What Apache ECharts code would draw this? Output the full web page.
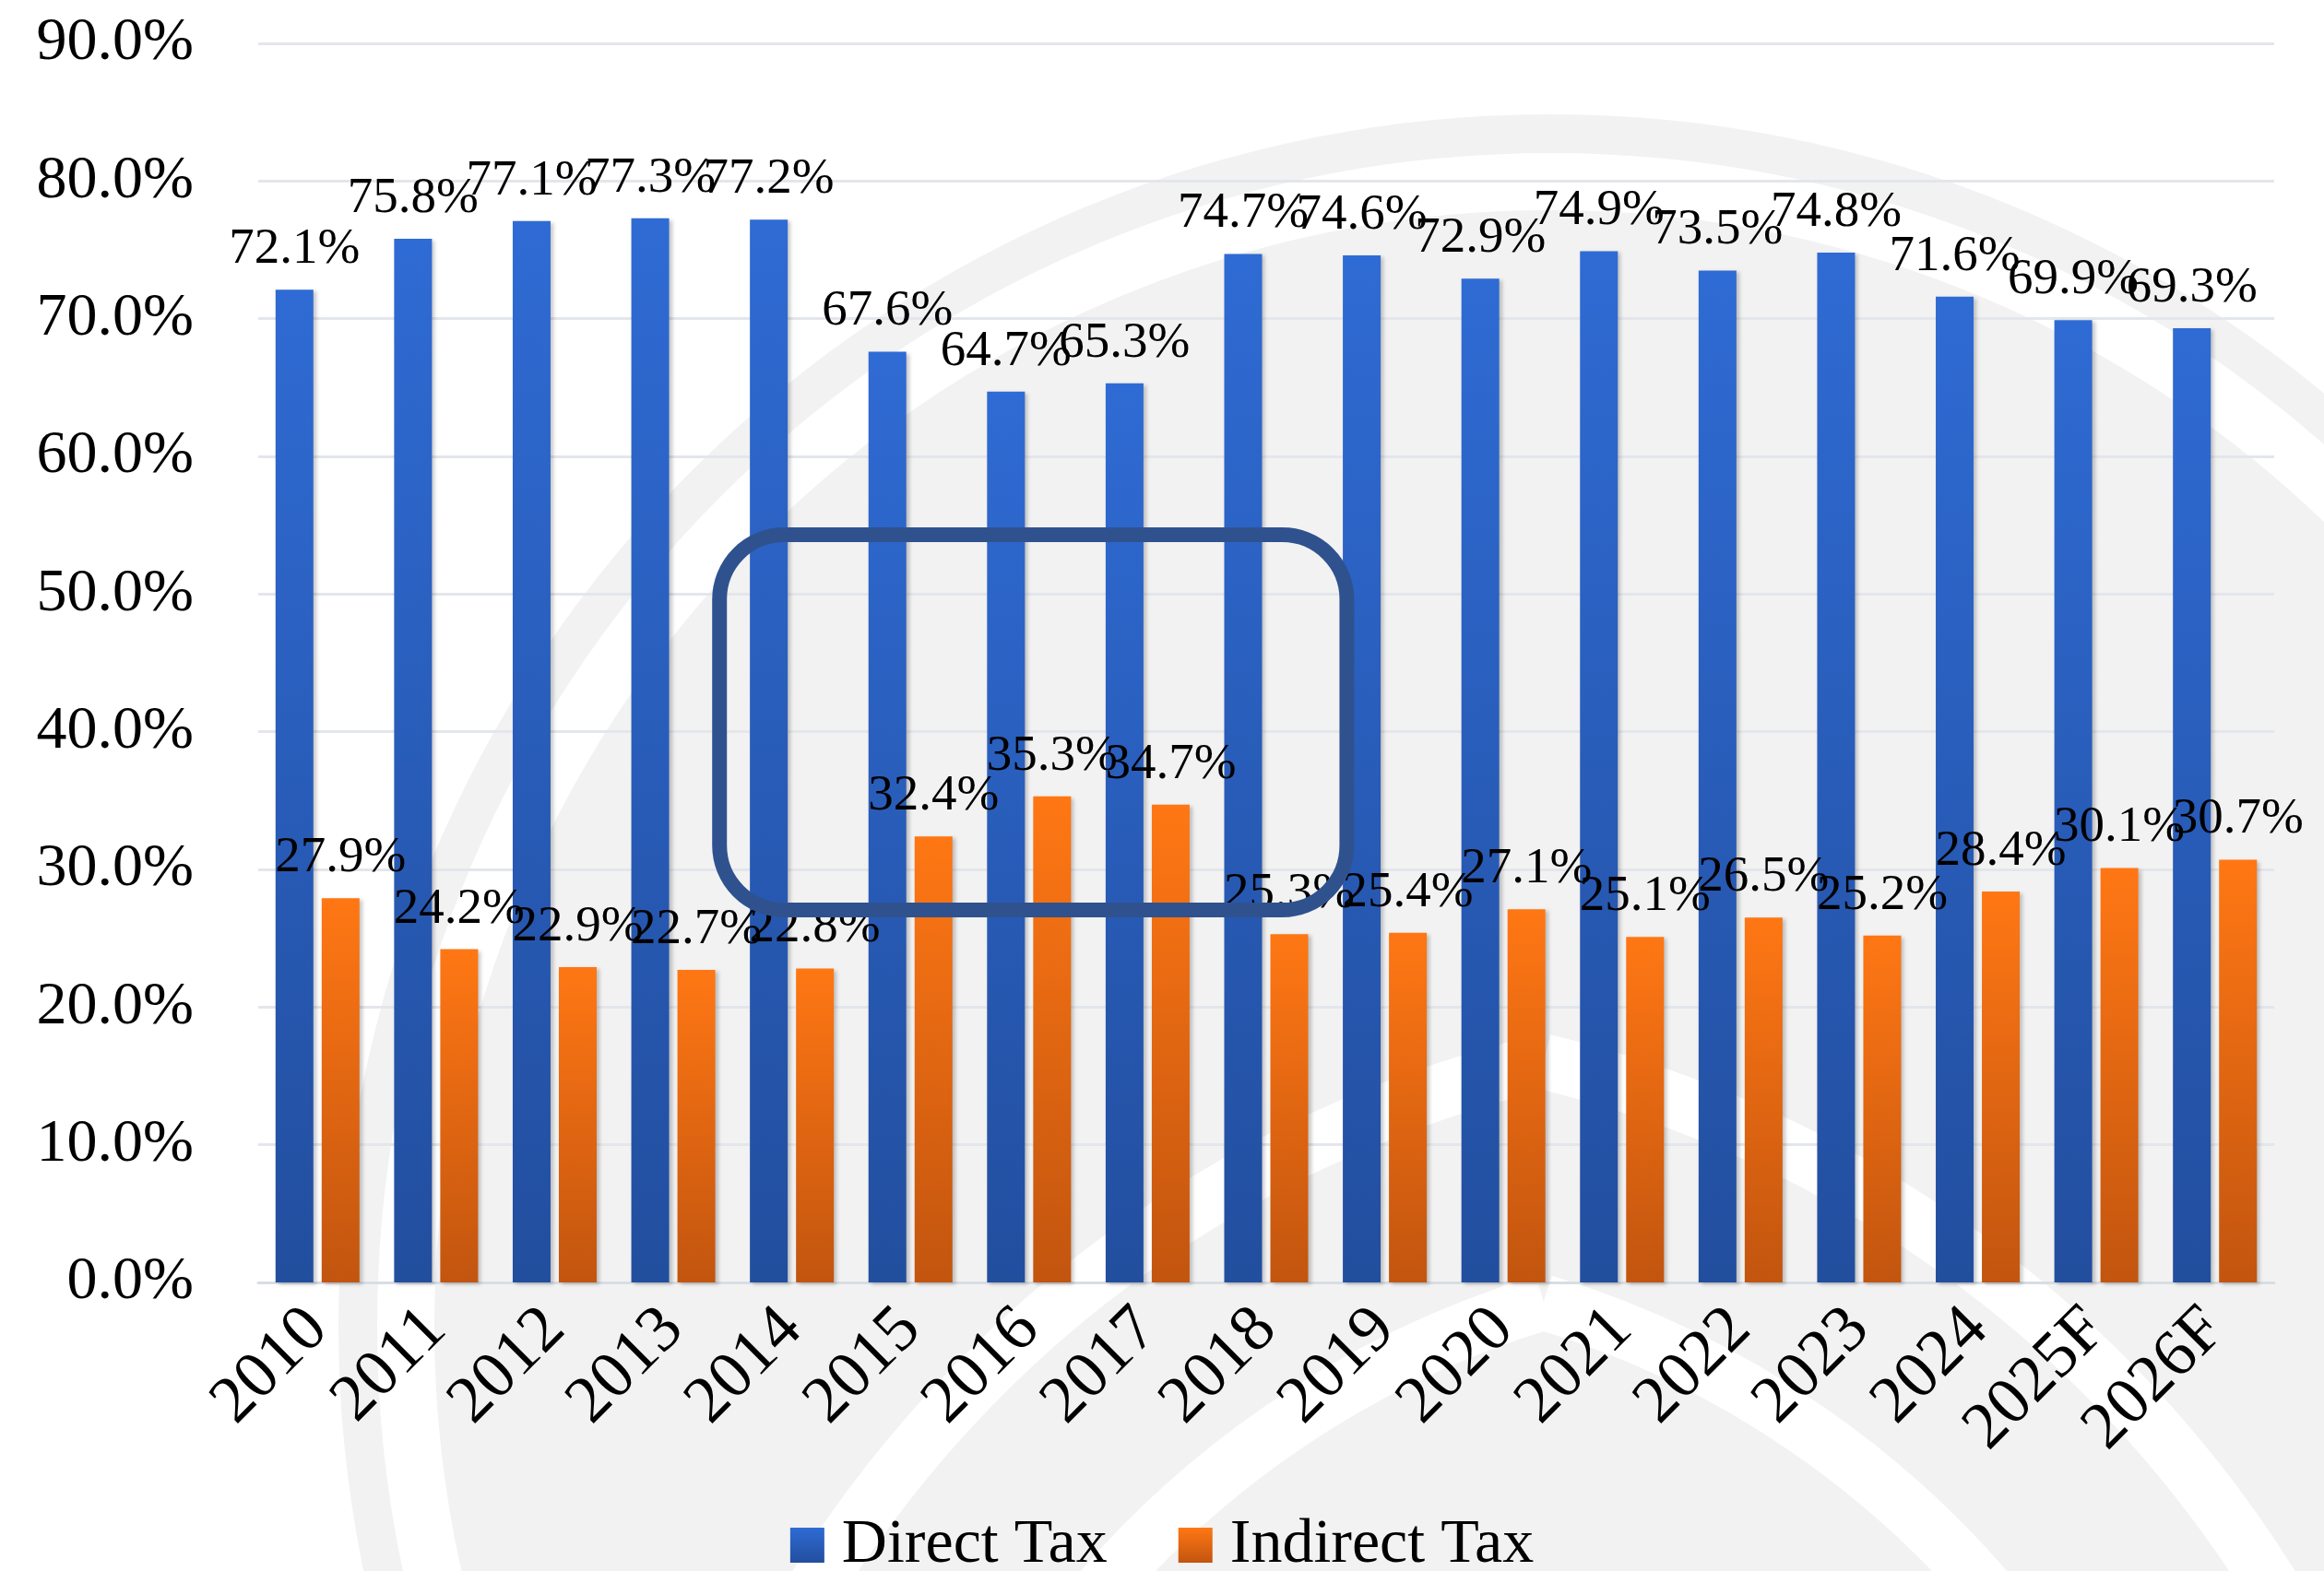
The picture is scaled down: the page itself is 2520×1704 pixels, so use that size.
<!DOCTYPE html>
<html>
<head>
<meta charset="utf-8">
<script src="https://cdn.jsdelivr.net/npm/echarts@6/dist/echarts.min.js"></script>
<style>
html,body{margin:0;padding:0;background:#fff;}
#c{width:2520px;height:1704px;}
</style>
</head>
<body>
<div id="c"></div>
<script>
var categories = ['2010','2011','2012','2013','2014','2015','2016','2017','2018','2019','2020','2021','2022','2023','2024','2025F','2026F'];
var directTax = [72.1, 75.8, 77.1, 77.3, 77.2, 67.6, 64.7, 65.3, 74.7, 74.6, 72.9, 74.9, 73.5, 74.8, 71.6, 69.9, 69.3];
var indirectTax = [27.9, 24.2, 22.9, 22.7, 22.8, 32.4, 35.3, 34.7, 25.3, 25.4, 27.1, 25.1, 26.5, 25.2, 28.4, 30.1, 30.7];
var seriesNames = ['Direct Tax', 'Indirect Tax'];
var yTicks = [0, 10, 20, 30, 40, 50, 60, 70, 80, 90];
// highlight box: category-index range and value range
var boxCategoryRange = [3.39, 8.68];
var boxValueRange = [27.05, 54.3];

var FONT = '"Liberation Serif", "DejaVu Serif", serif';
var chart = echarts.init(document.getElementById('c'), null, {renderer: 'canvas'});

function grad(top, bottom) {
  return new echarts.graphic.LinearGradient(0, 0, 0, 1, [
    {offset: 0, color: top}, {offset: 1, color: bottom}
  ]);
}

// watermark: large light circle with an inner white ring and pointed-arch white bands
var wm = [];
wm.push({type: 'circle', z: -100, silent: true, shape: {cx: 1681, cy: 1438, r: 1314}, style: {fill: '#F2F2F2'}});
wm.push({type: 'circle', z: -95, silent: true, shape: {cx: 1681, cy: 1438, r: 1241}, style: {fill: null, stroke: '#FFFFFF', lineWidth: 62}});
var archR = [1032, 1284];
var apexX = 1674, baseY = 2400, half = 300;
archR.forEach(function (r) {
  var aL = Math.atan2(-Math.sqrt(r * r - half * half), -half);
  var aR = Math.atan2(-Math.sqrt(r * r - half * half), half);
  wm.push({type: 'arc', z: -90, silent: true,
    shape: {cx: apexX + half, cy: baseY, r: r, startAngle: -Math.PI, endAngle: aL, clockwise: true},
    style: {stroke: '#FFFFFF', lineWidth: 60, fill: null}});
  wm.push({type: 'arc', z: -90, silent: true,
    shape: {cx: apexX - half, cy: baseY, r: r, startAngle: aR, endAngle: 0, clockwise: true},
    style: {stroke: '#FFFFFF', lineWidth: 60, fill: null}});
});

var barShadow = {shadowColor: 'rgba(0,0,0,0.22)', shadowBlur: 4, shadowOffsetX: 3, shadowOffsetY: 2};

var option = {
  animation: false,
  backgroundColor: '#FFFFFF',
  graphic: wm,
  grid: {left: 280, right: 54, top: 47, bottom: 313, containLabel: false},
  legend: {
    data: seriesNames,
    left: 'center',
    top: 1637,
    itemWidth: 37,
    itemHeight: 38,
    itemGap: 77,
    icon: 'rect',
    textStyle: {fontFamily: FONT, fontSize: 68, lineHeight: 62, color: '#000', padding: [0, 0, 0, 14]}
  },
  xAxis: {
    type: 'category',
    data: categories,
    axisLine: {show: true, lineStyle: {color: '#D9DDE3', width: 3}},
    axisTick: {show: false},
    axisLabel: {rotate: 45, margin: 40, fontFamily: FONT, fontSize: 72, color: '#000', interval: 0}
  },
  yAxis: {
    type: 'value',
    min: 0,
    max: 90,
    interval: 10,
    axisLine: {show: false},
    axisTick: {show: false},
    splitLine: {show: true, lineStyle: {color: '#E3E6EB', width: 3}},
    axisLabel: {
      margin: 70,
      fontFamily: FONT,
      fontSize: 66,
      color: '#000',
      formatter: function (v) { return yTicks.indexOf(v) >= 0 ? v.toFixed(1) + '%' : ''; }
    }
  },
  series: [
    {
      name: seriesNames[0],
      type: 'bar',
      data: directTax,
      barWidth: 41,
      barGap: '22%',
      itemStyle: Object.assign({color: grad('#2F6BD4', '#224E9E')}, barShadow),
      label: {show: true, position: 'top', distance: 16, fontFamily: FONT, fontSize: 55, color: '#000',
        formatter: function (p) { return p.value.toFixed(1) + '%'; }}
    },
    {
      name: seriesNames[1],
      type: 'bar',
      data: indirectTax,
      barWidth: 41,
      barGap: '22%',
      itemStyle: Object.assign({color: grad('#FF7714', '#C2550F')}, barShadow),
      label: {show: true, position: 'top', distance: 16, fontFamily: FONT, fontSize: 55, color: '#000',
        formatter: function (p) { return p.value.toFixed(1) + '%'; }}
    }
  ]
};
chart.setOption(option);

// highlight box positioned through the axes
function catToX(c) {
  var i = Math.floor(c), f = c - i;
  var x0 = chart.convertToPixel({xAxisIndex: 0}, i);
  var x1 = chart.convertToPixel({xAxisIndex: 0}, i + 1);
  return x0 + (x1 - x0) * f;
}
var bx0 = catToX(boxCategoryRange[0]);
var bx1 = catToX(boxCategoryRange[1]);
var by0 = chart.convertToPixel({yAxisIndex: 0}, boxValueRange[1]);
var by1 = chart.convertToPixel({yAxisIndex: 0}, boxValueRange[0]);
var allGraphic = wm.slice();
allGraphic.push({
  type: 'rect', z: 100, silent: true,
  shape: {x: bx0, y: by0, width: bx1 - bx0, height: by1 - by0, r: 70},
  style: {fill: null, stroke: '#2F528F', lineWidth: 16}
});
chart.setOption({graphic: allGraphic}, {replaceMerge: ['graphic']});
</script>
</body>
</html>
